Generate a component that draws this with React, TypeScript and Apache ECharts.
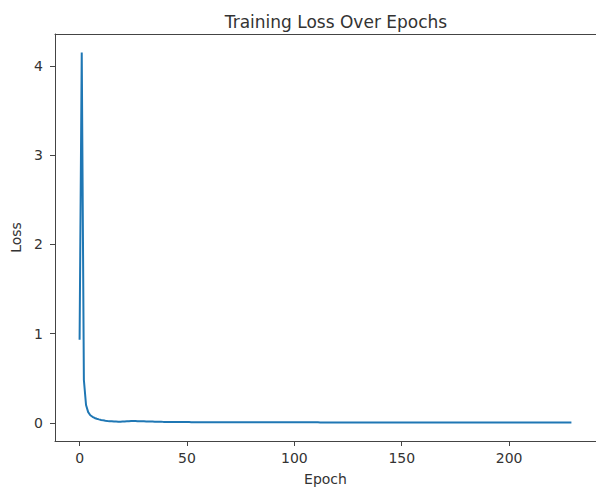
import React, { useEffect, useRef } from "react";
import * as echarts from "echarts";

const chartTitle = "Training Loss Over Epochs";
const xAxisLabel = "Epoch";
const yAxisLabel = "Loss";
const xTickValues = [0, 50, 100, 150, 200];
const yTickValues = [0, 1, 2, 3, 4];

// Loss per epoch, epochs 0..229
const lossValues = [
  0.93, 4.15, 0.48, 0.2, 0.12, 0.085, 0.068, 0.055, 0.046, 0.039,
  0.033, 0.028, 0.024, 0.021, 0.019, 0.017, 0.015, 0.014, 0.013, 0.013,
  0.014, 0.015, 0.017, 0.019, 0.02, 0.021, 0.02, 0.019, 0.018, 0.017,
  0.017, 0.016, 0.015, 0.015, 0.014, 0.013, 0.013, 0.012, 0.012, 0.011,
  0.011, 0.011, 0.01, 0.01, 0.01, 0.01, 0.009, 0.009, 0.009, 0.009,
  0.009, 0.009, 0.008, 0.008, 0.008, 0.008, 0.008, 0.008, 0.008, 0.008,
  0.008, 0.008, 0.008, 0.008, 0.007, 0.007, 0.007, 0.007, 0.007, 0.007,
  0.007, 0.007, 0.007, 0.007, 0.007, 0.007, 0.007, 0.007, 0.007, 0.007,
  0.007, 0.007, 0.007, 0.007, 0.006, 0.006, 0.006, 0.006, 0.006, 0.006,
  0.006, 0.006, 0.006, 0.006, 0.006, 0.006, 0.006, 0.006, 0.006, 0.006,
  0.006, 0.006, 0.006, 0.006, 0.006, 0.006, 0.006, 0.006, 0.006, 0.006,
  0.006, 0.006, 0.005, 0.005, 0.005, 0.005, 0.005, 0.005, 0.005, 0.005,
  0.005, 0.005, 0.005, 0.005, 0.005, 0.005, 0.005, 0.005, 0.005, 0.005,
  0.005, 0.005, 0.005, 0.005, 0.005, 0.005, 0.005, 0.005, 0.005, 0.005,
  0.005, 0.005, 0.005, 0.005, 0.005, 0.005, 0.005, 0.005, 0.005, 0.005,
  0.005, 0.005, 0.005, 0.005, 0.005, 0.005, 0.004, 0.004, 0.004, 0.004,
  0.004, 0.004, 0.004, 0.004, 0.004, 0.004, 0.004, 0.004, 0.004, 0.004,
  0.004, 0.004, 0.004, 0.004, 0.004, 0.004, 0.004, 0.004, 0.004, 0.004,
  0.004, 0.004, 0.004, 0.004, 0.004, 0.004, 0.004, 0.004, 0.004, 0.004,
  0.004, 0.004, 0.004, 0.004, 0.004, 0.004, 0.004, 0.004, 0.004, 0.004,
  0.004, 0.004, 0.004, 0.004, 0.004, 0.004, 0.004, 0.004, 0.004, 0.004,
  0.004, 0.004, 0.004, 0.004, 0.004, 0.004, 0.004, 0.004, 0.004, 0.004,
  0.004, 0.004, 0.004, 0.004, 0.004, 0.004, 0.004, 0.004, 0.004, 0.004,
];

const FONT = "DejaVu Sans";
const TEXT = "#333";
const SPINE = "#444";

export default function App() {
  const ref = useRef<HTMLDivElement>(null);
  useEffect(() => {
    if (!ref.current) return;
    const chart = echarts.init(ref.current, undefined, { renderer: "svg" });
    const data = lossValues.map((v, i) => [i, v]);
    const xs = data.map((d) => d[0]);
    const ys = data.map((d) => d[1]);
    const xMinD = Math.min(...xs), xMaxD = Math.max(...xs);
    const yMinD = Math.min(...ys), yMaxD = Math.max(...ys);
    const xm = (xMaxD - xMinD) * 0.05;
    const ym = (yMaxD - yMinD) * 0.05;
    chart.setOption({
      animation: false,
      backgroundColor: "#fff",
      title: {
        text: chartTitle,
        left: 331,
        textAlign: "center",
        top: 8,
        textStyle: { fontFamily: FONT, fontSize: 17, fontWeight: "normal", color: TEXT },
      },
      grid: {
        left: 55,
        top: 34,
        width: 551,
        height: 409,
        show: false,
      },
      xAxis: [
        {
          type: "value",
          position: "bottom",
          min: xMinD - xm,
          max: xMaxD + xm,
          name: xAxisLabel,
          nameLocation: "middle",
          nameGap: 31,
          nameTextStyle: { fontFamily: FONT, fontSize: 14, color: TEXT },
          axisLine: { show: true, onZero: false, lineStyle: { color: SPINE, width: 1 } },
          axisTick: { show: true, length: 5, customValues: xTickValues, lineStyle: { color: SPINE } },
          axisLabel: { customValues: xTickValues, margin: 10, fontFamily: FONT, fontSize: 14, color: TEXT },
          splitLine: { show: false },
        },
        {
          type: "value",
          position: "top",
          min: xMinD - xm,
          max: xMaxD + xm,
          axisLine: { show: true, onZero: false, lineStyle: { color: SPINE, width: 1 } },
          axisTick: { show: false },
          axisLabel: { show: false },
          splitLine: { show: false },
        },
      ],
      yAxis: {
        type: "value",
        min: yMinD - ym,
        max: yMaxD + ym,
        name: yAxisLabel,
        nameLocation: "middle",
        nameGap: 28,
        nameTextStyle: { fontFamily: FONT, fontSize: 14, color: TEXT },
        axisLine: { show: true, onZero: false, lineStyle: { color: SPINE, width: 1 } },
        axisTick: { show: true, length: 5, customValues: yTickValues, lineStyle: { color: SPINE } },
        axisLabel: { customValues: yTickValues, margin: 12, fontFamily: FONT, fontSize: 14, color: TEXT },
        splitLine: { show: false },
      },
      series: [
        {
          type: "line",
          xAxisIndex: 0,
          data,
          showSymbol: false,
          symbol: "none",
          lineStyle: { color: "#1f77b4", width: 2 },
        },
      ],
    });
    return () => chart.dispose();
  }, []);
  return (
    <div
      ref={ref}
      style={{ position: "fixed", left: 0, top: 0, width: 596, height: 491 }}
    />
  );
}
